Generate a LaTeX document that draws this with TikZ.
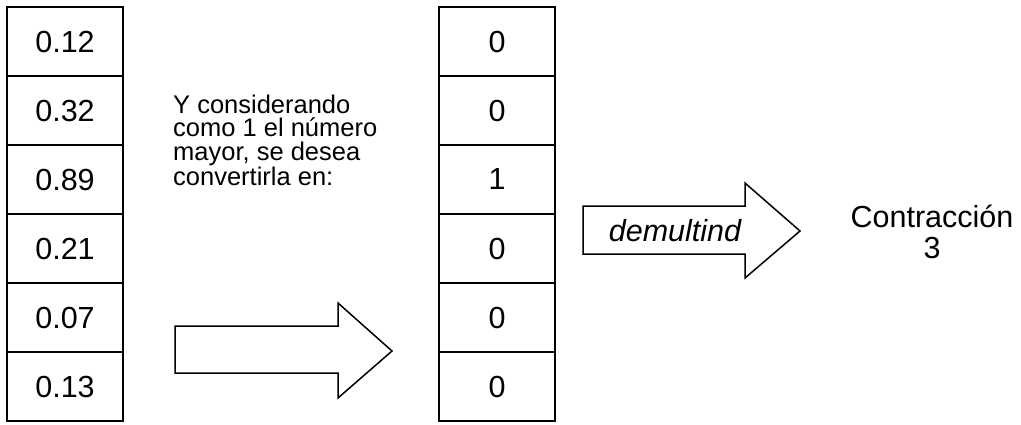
\documentclass[tikz,border=0pt]{standalone}
\usepackage{fontspec}
\setmainfont{Liberation Sans}
\begin{document}
\begin{tikzpicture}[x=1pt,y=-1pt,
  cell/.style={draw, line width=2pt, minimum width=116pt, minimum height=69pt,
    inner sep=0pt, font=\fontsize{30.5}{33}\selectfont},
  fatarrow/.style={draw, line width=1.5pt, fill=white, line join=miter},
  note/.style={inner sep=0pt, align=left, anchor=base west,
    font=\fontsize{25.5}{23.5}\selectfont},
  label/.style={inner sep=0pt, font=\fontsize{30.5}{31}\selectfont}]
  \useasboundingbox (0,0) rectangle (1021,424);

  % input vector
  \foreach \v [count=\i] in {0.12,0.32,0.89,0.21,0.07,0.13}
    \node[cell] (in\i) at (65,{7+69*(\i-0.5)}) {\v};

  % output vector
  \foreach \v [count=\i] in {0,0,1,0,0,0}
    \node[cell] (out\i) at (497,{7+69*(\i-0.5)}) {\v};

  % explanatory text (anchored on the baseline of its last line)
  \node[note] (txt) at (173,185) {Y considerando\\como 1 el número\\mayor, se desea\\convertirla en:};

  % block arrow between the two vectors
  \draw[fatarrow] (175,326) -- (338,326) -- (338,303) -- (392,351)
    -- (338,398) -- (338,373) -- (175,373) -- cycle;

  % block arrow with the function name
  \draw[fatarrow] (583,206) -- (745,206) -- (745,183) -- (800,231)
    -- (745,278) -- (745,254) -- (583,254) -- cycle;
  \node[label] (fn) at (675,231) {\itshape demultind};

  % result
  \node[label, align=center, anchor=base] (res) at (932,258) {Contracción\\3};
\end{tikzpicture}
\end{document}
